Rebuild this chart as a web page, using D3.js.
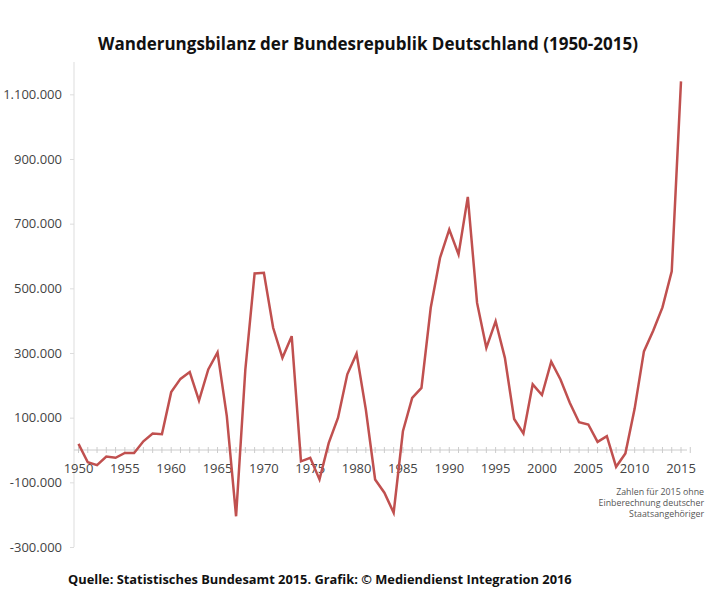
<!DOCTYPE html>
<html>
<head>
<meta charset="utf-8">
<script src="https://cdn.jsdelivr.net/npm/d3@7"></script>
<style>
  body { margin: 0; background: #fff; }
  text { font-family: "Open Sans", sans-serif; }
</style>
</head>
<body>
<svg width="708" height="600"></svg>
<script>
(function(d3) {
    "use strict";

    // Wanderungssaldo je Jahr
    var years = d3.range(1950, 2016);
    var saldo = [
        19000, -38000, -47000, -20000, -24000, -9000, -9000, 27000, 51000, 49000,
        179000, 220000, 241000, 153000, 249000, 302000, 105000, -205000, 249000, 546000,
        548000, 378000, 285000, 352000, -35000, -24000, -91000, 22000, 100000, 234000,
        298000, 125000, -91000, -132000, -194000, 58000, 161000, 192000, 440000, 594000,
        682000, 605000, 783000, 455000, 316000, 398000, 285000, 96000, 51000, 203000,
        170000, 273000, 218000, 146000, 86000, 79000, 25000, 43000, -52000, -11000,
        128000, 305000, 369000, 441000, 553000, 1140000
    ];
    var yTicks = [-300000, -100000, 100000, 300000, 500000, 700000, 900000, 1100000];
    var xTicks = [1950, 1955, 1960, 1965, 1970, 1975, 1980, 1985, 1990, 1995, 2000, 2005, 2010, 2015];
    var noteLines = ["Zahlen für 2015 ohne", "Einberechnung deutscher", "Staatsangehöriger"];

    var svg = d3.select("svg"),
        fmt = function(v) {
            return d3.format(",")(v).replace(/,/g, ".").replace("−", "-");
        },
        data = years.map(function(y, i) {
            return { year: y, value: saldo[i] };
        });

    var x = d3.scaleLinear().domain([1950, 2015]).range([78.5, 681]),
        y = d3.scaleLinear().domain([-300000, 1200000]).range([547, 62]);

    svg.append("text")
        .attr("x", 368).attr("y", 50)
        .attr("text-anchor", "middle")
        .attr("font-size", 17).attr("font-weight", 700)
        .attr("fill", "#111")
        .text("Wanderungsbilanz der Bundesrepublik Deutschland (1950-2015)");

    // y-Achse
    var yAxis = svg.append("g")
        .attr("transform", "translate(74,0)")
        .call(d3.axisLeft(y).tickValues(yTicks).tickFormat(fmt).tickSize(4).tickPadding(8));
    yAxis.select(".domain").attr("stroke", "#ddd").attr("d", "M0," + y(1200000) + "V" + y(-300000));
    yAxis.selectAll(".tick line").attr("stroke", "#ddd");
    yAxis.selectAll(".tick text").attr("font-size", 13).attr("fill", "#444")
        .attr("font-family", "Open Sans, sans-serif");

    // Nulllinie mit Jahresticks
    var xAxis = svg.append("g").attr("transform", "translate(0," + y(0) + ")");
    xAxis.append("line")
        .attr("x1", 74).attr("x2", 687)
        .attr("stroke", "#ccc");
    xAxis.selectAll(".minor").data(years.concat([2016]))
        .enter().append("line")
        .attr("x1", function(d) { return x(d); })
        .attr("x2", function(d) { return x(d); })
        .attr("y1", -3).attr("y2", 3)
        .attr("stroke", "#ccc");
    xAxis.selectAll(".lbl").data(xTicks)
        .enter().append("text")
        .attr("x", function(d) { return x(d); })
        .attr("y", 23)
        .attr("text-anchor", "middle")
        .attr("font-size", 13).attr("fill", "#444")
        .text(function(d) { return d; });

    var line = d3.line()
        .x(function(d) { return x(d.year); })
        .y(function(d) { return y(d.value); });

    svg.append("path")
        .datum(data)
        .attr("fill", "none")
        .attr("stroke", "#c0504f")
        .attr("stroke-width", 2.5)
        .attr("stroke-linejoin", "miter")
        .attr("d", line);

    // Anmerkung als ein Textblock
    svg.append("text")
        .attr("text-anchor", "end")
        .attr("font-size", 8.8).attr("fill", "#555")
        .selectAll("tspan").data(noteLines)
        .enter().append("tspan")
        .attr("x", 704)
        .attr("y", function(d, i) { return 495 + i * 10.8; })
        .text(function(d) { return d; });

    svg.append("text")
        .attr("x", 68).attr("y", 584)
        .attr("font-size", 12.85).attr("font-weight", 700)
        .attr("fill", "#111")
        .text("Quelle: Statistisches Bundesamt 2015. Grafik: © Mediendienst Integration 2016");

}(d3));
</script>
</body>
</html>
